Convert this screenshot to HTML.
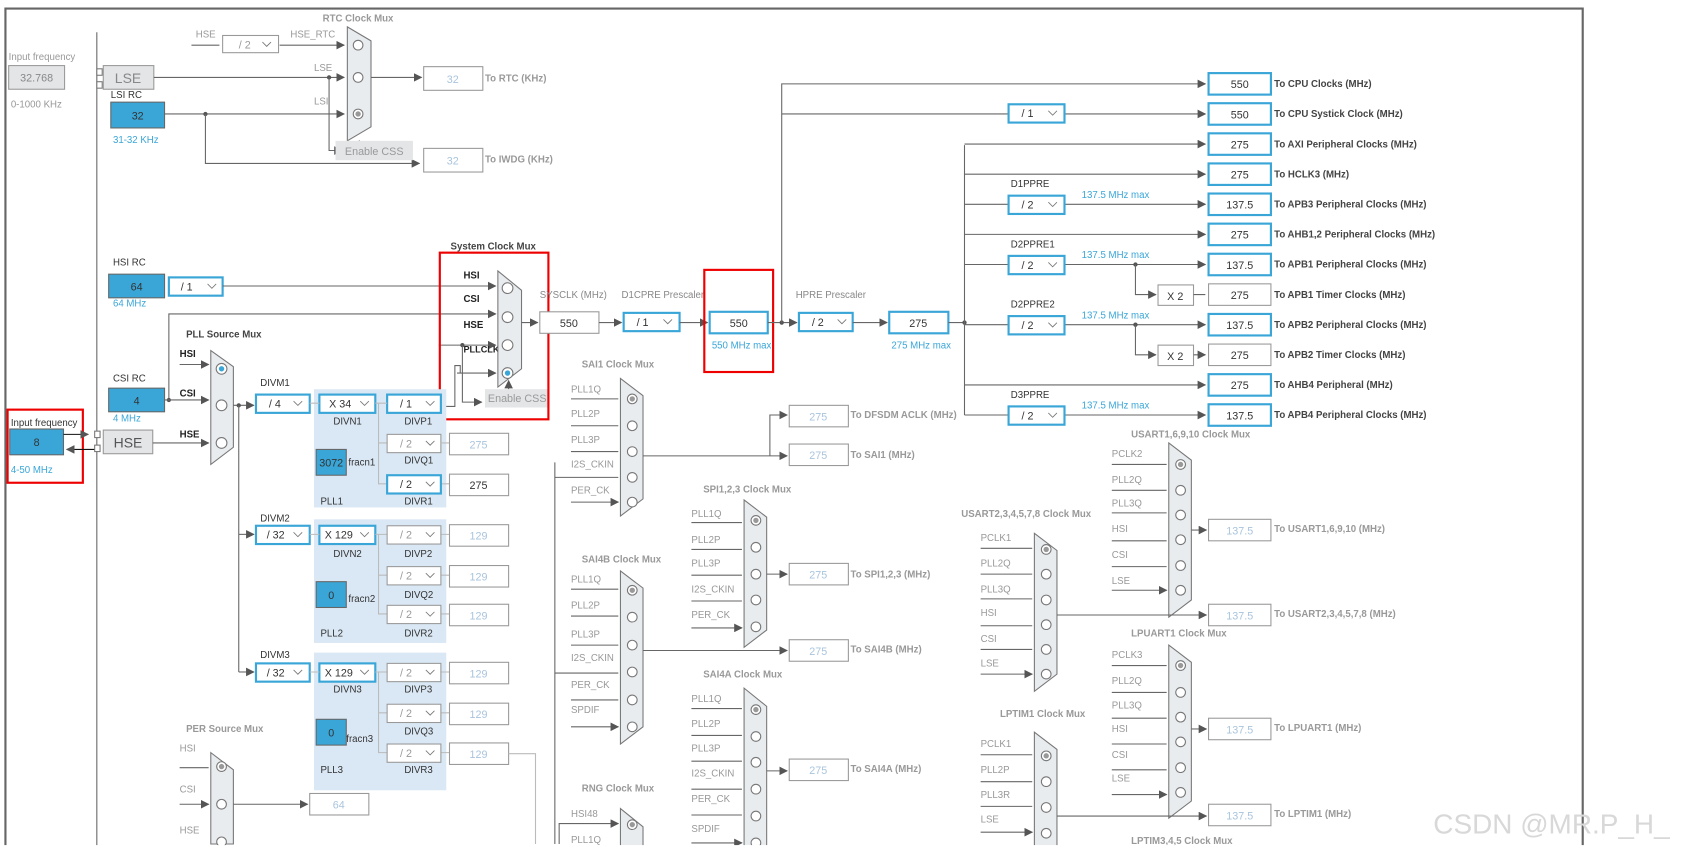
<!DOCTYPE html>
<html><head><meta charset="utf-8"><style>
html,body{margin:0;padding:0;background:#fff;}
svg{display:block;font-family:"Liberation Sans",sans-serif;}
.l{stroke:#666;stroke-width:1;fill:none}
.lb{stroke:#bbb;stroke-width:1;fill:none}
.t{font-size:9px;fill:#999}
.td{font-size:9px;fill:#333}
.tb{font-size:9px;fill:#444;font-weight:bold}
.tm{font-size:9px;fill:#999;font-weight:bold}
.tc{font-size:9px;fill:#3aa6d8}
.bx{fill:#fff;stroke:#3aa6d8;stroke-width:2}
.gx{fill:#fff;stroke:#999;stroke-width:1}
.bf{fill:#3aa6d8;stroke:#666;stroke-width:1}
.gf{fill:#e3e5e7;stroke:#999;stroke-width:1}
.mux{fill:#e9ecef;stroke:#777;stroke-width:1}
.c{fill:#fff;stroke:#777;stroke-width:1}
.v{font-size:10px;fill:#333;text-anchor:middle}
.vl{font-size:10px;fill:#a9c4dd;text-anchor:middle}
.red{fill:none;stroke:#e00;stroke-width:2}
</style></head><body>
<svg width="1686" height="851" viewBox="0 0 1568 791.5" xmlns="http://www.w3.org/2000/svg">
<defs>
<marker id="a" viewBox="0 0 10 10" refX="9" refY="5" markerWidth="8" markerHeight="8" orient="auto"><path d="M0,0L10,5L0,10z" fill="#555"/></marker>
<symbol id="ch" viewBox="0 0 10 6" overflow="visible"><path d="M0,0L5,5L10,0" fill="none" stroke="#777" stroke-width="1"/></symbol>
</defs>
<rect width="1568" height="792" fill="#fff"/>
<path d="M5,790V8H1472V790" fill="none" stroke="#666" stroke-width="2"/>
<path d="M90,30V790" class="l" stroke="#888"/>

<text x="8" y="56" class="t">Input frequency</text>
<rect x="8" y="61" width="52" height="22" class="gf"/><text x="34" y="76" class="v" style="fill:#888">32.768</text>
<text x="10" y="100" class="t">0-1000 KHz</text>
<rect x="90" y="64" width="5" height="6" fill="#fff" stroke="#777"/><rect x="90" y="76" width="5" height="6" fill="#fff" stroke="#777"/>
<rect x="96" y="61" width="47" height="22" class="gf"/><text x="119" y="77" style="font-size:13px;fill:#888" text-anchor="middle">LSE</text>
<text x="103" y="91" class="td">LSI RC</text>
<rect x="103" y="95" width="50" height="24" class="bf"/><text x="128" y="111" class="v">32</text>
<text x="105" y="133" class="tc">31-32 KHz</text>
<path d="M143,72H320" class="l" marker-end="url(#a)"/>
<path d="M153,106H320" class="l" marker-end="url(#a)"/>
<circle cx="191" cy="106" r="2" fill="#555"/><circle cx="306" cy="72" r="2" fill="#555"/>
<path d="M191,106V152H390" class="l" marker-end="url(#a)"/>
<path d="M306,72V140H318" class="l" marker-end="url(#a)"/>
<text x="182" y="35" class="t">HSE</text><path d="M178,42H204" class="l"/>
<rect x="207" y="33" width="52" height="16" class="gx"/><text x="222" y="45" class="t" style="font-size:10px">/ 2</text><use href="#ch" x="244" y="39" width="8" height="5"/>
<text x="270" y="35" class="t">HSE_RTC</text><path d="M260,42H320" class="l" marker-end="url(#a)"/>
<text x="292" y="66" class="t">LSE</text><text x="292" y="97" class="t">LSI</text>
<text x="300" y="20" class="tm">RTC Clock Mux</text>
<path d="M323,25L345,38V118L323,131Z" class="mux"/>
<circle cx="333" cy="42" r="4.5" class="c"/><circle cx="333" cy="72" r="4.5" class="c"/><circle cx="333" cy="106" r="4.5" class="c"/><circle cx="333" cy="106" r="2.5" fill="#999"/>
<path d="M334,140V131" class="l" marker-end="url(#a)"/>
<rect x="312" y="131" width="72" height="18" fill="#e3e5e7"/><text x="348" y="144" class="t" text-anchor="middle" style="font-size:10px">Enable CSS</text>
<path d="M345,72H392" class="l" marker-end="url(#a)"/>
<rect x="394" y="62" width="55" height="22" class="gx"/><text x="421" y="77" class="vl">32</text><text x="451" y="76" class="tm">To RTC (KHz)</text>
<rect x="394" y="138" width="55" height="22" class="gx"/><text x="421" y="153" class="vl">32</text><text x="451" y="151" class="tm">To IWDG (KHz)</text>

<text x="105" y="247" class="td">HSI RC</text>
<rect x="101" y="255" width="52" height="22" class="bf"/><text x="127" y="270" class="v">64</text>
<text x="105" y="285" class="tc">64 MHz</text>
<rect x="157" y="258" width="50" height="17" class="bx"/><text x="168" y="270" class="td" style="font-size:10px">/ 1</text><use href="#ch" x="193" y="264" width="8" height="5"/>
<path d="M207,266H461" class="l" marker-end="url(#a)"/>
<path d="M157,372V292H461" class="l" marker-end="url(#a)"/>
<path d="M408,321H461" class="l" marker-end="url(#a)"/><circle cx="430" cy="321" r="2" fill="#555"/>
<path d="M410,378H423V340H428V347" class="l"/><path d="M425,347H461" class="l" marker-end="url(#a)"/>
<path d="M430,321V374H448" class="l" marker-end="url(#a)"/>
<text x="419" y="232" class="tb">System Clock Mux</text>
<text x="431" y="259" class="tb" style="fill:#222">HSI</text><text x="431" y="281" class="tb" style="fill:#222">CSI</text><text x="431" y="305" class="tb" style="fill:#222">HSE</text><text x="431" y="328" class="tb" style="fill:#222;font-size:8.5px">PLLCLK</text>
<path d="M463,252L485,270V343L463,360Z" class="mux"/>
<circle cx="472" cy="268" r="5" class="c"/><circle cx="472" cy="295" r="5" class="c"/><circle cx="472" cy="321" r="5" class="c"/><circle cx="472" cy="347" r="5" class="c" stroke="#3aa6d8"/><circle cx="472" cy="347" r="2.5" fill="#3aa6d8"/>
<path d="M473,362V354" class="l" marker-end="url(#a)"/>
<rect x="451" y="362" width="60" height="17" fill="#e3e5e7"/><text x="481" y="374" class="t" text-anchor="middle" style="font-size:10px">Enable CSS</text>
<rect x="409" y="235" width="101" height="155" class="red"/>
<path d="M485,300H500" class="l" marker-end="url(#a)"/>
<text x="502" y="277" class="t" style="fill:#888">SYSCLK (MHz)</text>
<rect x="502" y="290" width="55" height="20" class="gx"/><text x="529" y="304" class="v">550</text>
<path d="M557,300H578" class="l" marker-end="url(#a)"/>
<text x="578" y="277" class="t" style="fill:#888">D1CPRE Prescaler</text>
<rect x="580" y="291" width="52" height="17" class="bx"/><text x="592" y="303" class="td" style="font-size:10px">/ 1</text><use href="#ch" x="617" y="297" width="8" height="5"/>
<path d="M632,300H658" class="l" marker-end="url(#a)"/>
<rect x="655" y="251" width="64" height="95" class="red"/>
<rect x="660" y="290" width="54" height="20" class="bx"/><text x="687" y="304" class="v">550</text>
<text x="662" y="324" class="tc">550 MHz max</text>
<path d="M714,300H741" class="l" marker-end="url(#a)"/><circle cx="727" cy="300" r="2" fill="#555"/>
<text x="740" y="277" class="t" style="fill:#888">HPRE Prescaler</text>
<rect x="743" y="291" width="50" height="17" class="bx"/><text x="755" y="303" class="td" style="font-size:10px">/ 2</text><use href="#ch" x="779" y="297" width="8" height="5"/>
<path d="M793,300H825" class="l" marker-end="url(#a)"/>
<rect x="827" y="290" width="55" height="20" class="bx"/><text x="854" y="304" class="v">275</text>
<text x="829" y="324" class="tc">275 MHz max</text>
<path d="M882,300H897" class="l"/><circle cx="897" cy="300" r="2" fill="#555"/>
<path d="M727,300V78H1121" class="l" marker-end="url(#a)"/>
<path d="M727,106H938" class="l"/><path d="M990,106H1121" class="l" marker-end="url(#a)"/>
<rect x="938" y="97" width="52" height="17" class="bx"/><text x="950" y="109" class="td" style="font-size:10px">/ 1</text><use href="#ch" x="975" y="103" width="8" height="5"/>
<path d="M897,135V386" class="l"/>
<path d="M897,134H1121" class="l" marker-end="url(#a)"/>
<path d="M897,162H1121" class="l" marker-end="url(#a)"/>
<path d="M897,218H1121" class="l" marker-end="url(#a)"/>
<path d="M897,358H1121" class="l" marker-end="url(#a)"/>
<path d="M897,190H938 M897,246H938 M897,302H938 M897,386H938" class="l"/>
<path d="M990,190H1121" class="l" marker-end="url(#a)"/>
<path d="M990,246H1121" class="l" marker-end="url(#a)"/>
<path d="M990,302H1121" class="l" marker-end="url(#a)"/>
<path d="M990,386H1121" class="l" marker-end="url(#a)"/>
<circle cx="1056" cy="246" r="2" fill="#555"/><circle cx="1056" cy="302" r="2" fill="#555"/>
<path d="M1056,246V274H1075" class="l" marker-end="url(#a)"/><path d="M1056,302V330H1075" class="l" marker-end="url(#a)"/>
<rect x="1077" y="265" width="33" height="19" class="gx"/><text x="1093" y="279" class="v">X 2</text>
<rect x="1077" y="321" width="33" height="19" class="gx"/><text x="1093" y="335" class="v">X 2</text>
<path d="M1110,274H1121 M1110,330H1121" class="l" marker-end="url(#a)"/>
<text x="940" y="174" class="td">D1PPRE</text><text x="940" y="230" class="td">D2PPRE1</text><text x="940" y="286" class="td">D2PPRE2</text><text x="940" y="370" class="td">D3PPRE</text>
<text x="1006" y="184" class="tc">137.5 MHz max</text><text x="1006" y="240" class="tc">137.5 MHz max</text><text x="1006" y="296" class="tc">137.5 MHz max</text><text x="1006" y="380" class="tc">137.5 MHz max</text>
<rect x="938" y="182" width="52" height="17" class="bx"/><text x="950" y="194" class="td" style="font-size:10px">/ 2</text><use href="#ch" x="975" y="188" width="8" height="5"/>
<rect x="938" y="238" width="52" height="17" class="bx"/><text x="950" y="250" class="td" style="font-size:10px">/ 2</text><use href="#ch" x="975" y="244" width="8" height="5"/>
<rect x="938" y="294" width="52" height="17" class="bx"/><text x="950" y="306" class="td" style="font-size:10px">/ 2</text><use href="#ch" x="975" y="300" width="8" height="5"/>
<rect x="938" y="378" width="52" height="17" class="bx"/><text x="950" y="390" class="td" style="font-size:10px">/ 2</text><use href="#ch" x="975" y="384" width="8" height="5"/>
<rect x="1124" y="68" width="58" height="20" class="bx"/><text x="1153" y="82" class="v">550</text><text x="1185" y="81" class="tb">To CPU Clocks (MHz)</text>
<rect x="1124" y="96" width="58" height="20" class="bx"/><text x="1153" y="110" class="v">550</text><text x="1185" y="109" class="tb">To CPU Systick Clock (MHz)</text>
<rect x="1124" y="124" width="58" height="20" class="bx"/><text x="1153" y="138" class="v">275</text><text x="1185" y="137" class="tb">To AXI Peripheral Clocks (MHz)</text>
<rect x="1124" y="152" width="58" height="20" class="bx"/><text x="1153" y="166" class="v">275</text><text x="1185" y="165" class="tb">To HCLK3 (MHz)</text>
<rect x="1124" y="180" width="58" height="20" class="bx"/><text x="1153" y="194" class="v">137.5</text><text x="1185" y="193" class="tb">To APB3 Peripheral Clocks (MHz)</text>
<rect x="1124" y="208" width="58" height="20" class="bx"/><text x="1153" y="222" class="v">275</text><text x="1185" y="221" class="tb">To AHB1,2 Peripheral Clocks (MHz)</text>
<rect x="1124" y="236" width="58" height="20" class="bx"/><text x="1153" y="250" class="v">137.5</text><text x="1185" y="249" class="tb">To APB1 Peripheral Clocks (MHz)</text>
<rect x="1124" y="264" width="58" height="20" class="gx"/><text x="1153" y="278" class="v">275</text><text x="1185" y="277" class="tb">To APB1 Timer Clocks (MHz)</text>
<rect x="1124" y="292" width="58" height="20" class="bx"/><text x="1153" y="306" class="v">137.5</text><text x="1185" y="305" class="tb">To APB2 Peripheral Clocks (MHz)</text>
<rect x="1124" y="320" width="58" height="20" class="gx"/><text x="1153" y="334" class="v">275</text><text x="1185" y="333" class="tb">To APB2 Timer Clocks (MHz)</text>
<rect x="1124" y="348" width="58" height="20" class="bx"/><text x="1153" y="362" class="v">275</text><text x="1185" y="361" class="tb">To AHB4 Peripheral (MHz)</text>
<rect x="1124" y="376" width="58" height="20" class="bx"/><text x="1153" y="390" class="v">137.5</text><text x="1185" y="389" class="tb">To APB4 Peripheral Clocks (MHz)</text>

<text x="105" y="355" class="td">CSI RC</text>
<rect x="101" y="361" width="52" height="22" class="bf"/><text x="127" y="376" class="v">4</text>
<text x="105" y="392" class="tc">4 MHz</text>
<circle cx="157" cy="372" r="2" fill="#555"/>
<path d="M153,372H194" class="l" marker-end="url(#a)"/>
<rect x="7" y="381" width="70" height="68" class="red"/>
<text x="10" y="396" class="td">Input frequency</text>
<rect x="9" y="399" width="50" height="24" class="bf"/><text x="34" y="415" class="v">8</text>
<text x="10" y="440" class="tc">4-50 MHz</text>
<path d="M59,404H82" stroke="#111" fill="none" marker-end="url(#a)"/><path d="M90,418H62" stroke="#111" fill="none" marker-end="url(#a)"/>
<rect x="88" y="401" width="5" height="6" fill="#fff" stroke="#777"/><rect x="88" y="414" width="5" height="6" fill="#fff" stroke="#777"/>
<rect x="96" y="400" width="46" height="22" class="gf"/><text x="119" y="416" style="font-size:13px;fill:#555" text-anchor="middle">HSE</text>
<path d="M142,412H194" class="l" marker-end="url(#a)"/>
<path d="M167,339H194" class="l" marker-end="url(#a)"/>
<text x="173" y="314" class="tb">PLL Source Mux</text>
<text x="167" y="332" class="tb" style="fill:#222">HSI</text><text x="167" y="369" class="tb" style="fill:#222">CSI</text><text x="167" y="407" class="tb" style="fill:#222">HSE</text>
<path d="M196,326L217,341V416L196,432Z" class="mux"/>
<circle cx="206" cy="343" r="5" class="c" stroke="#3aa6d8"/><circle cx="206" cy="343" r="2.5" fill="#3aa6d8"/>
<circle cx="206" cy="377" r="5" class="c"/><circle cx="206" cy="412" r="5" class="c"/>
<path d="M217,377H236" class="l" marker-end="url(#a)"/><circle cx="222" cy="377" r="2" fill="#555"/>
<path d="M222,377V625" class="l" stroke="#aaa"/>
<path d="M222,497H236" class="l" marker-end="url(#a)"/><path d="M222,625H236" class="l" marker-end="url(#a)"/>

<rect x="292" y="362" width="123" height="110" fill="#dae8f5"/>
<rect x="292" y="483" width="123" height="115" fill="#dae8f5"/>
<rect x="292" y="607" width="123" height="128" fill="#dae8f5"/>
<text x="242" y="359" class="td">DIVM1</text>
<rect x="238" y="367" width="50" height="17" class="bx"/><text x="250" y="379" class="td" style="font-size:10px">/ 4</text><use href="#ch" x="273" y="373" width="8" height="5"/>
<rect x="297" y="367" width="52" height="17" class="bx"/><text x="306" y="379" class="td" style="font-size:10px">X 34</text><use href="#ch" x="335" y="373" width="8" height="5"/>
<rect x="360" y="367" width="50" height="17" class="bx"/><text x="372" y="379" class="td" style="font-size:10px">/ 1</text><use href="#ch" x="396" y="373" width="8" height="5"/>
<text x="310" y="395" class="td">DIVN1</text><text x="376" y="395" class="td">DIVP1</text>
<path d="M288,375H297 M349,375H360 M352,375V450H360 M352,412H360" class="lb"/>
<rect x="360" y="404" width="50" height="17" class="gx"/><text x="372" y="416" class="t" style="font-size:10px">/ 2</text><use href="#ch" x="396" y="410" width="8" height="5"/>
<text x="376" y="431" class="td">DIVQ1</text>
<path d="M410,412H418 M410,450H418" class="lb"/>
<rect x="418" y="403" width="55" height="20" class="gx"/><text x="445" y="417" class="vl">275</text>
<rect x="294" y="418" width="28" height="24" class="bf"/><text x="308" y="434" class="v">3072</text><text x="324" y="433" class="td">fracn1</text>
<rect x="360" y="442" width="50" height="17" class="bx"/><text x="372" y="454" class="td" style="font-size:10px">/ 2</text><use href="#ch" x="396" y="448" width="8" height="5"/>
<rect x="418" y="441" width="55" height="20" class="gx"/><text x="445" y="455" class="v">275</text>
<text x="298" y="469" class="td">PLL1</text><text x="376" y="469" class="td">DIVR1</text>

<text x="242" y="485" class="td">DIVM2</text>
<rect x="238" y="489" width="50" height="17" class="bx"/><text x="248" y="501" class="td" style="font-size:10px">/ 32</text><use href="#ch" x="273" y="495" width="8" height="5"/>
<rect x="297" y="489" width="52" height="17" class="bx"/><text x="302" y="501" class="td" style="font-size:10px">X 129</text><use href="#ch" x="335" y="495" width="8" height="5"/>
<text x="310" y="518" class="td">DIVN2</text>
<path d="M288,497H297 M349,497H360 M352,497V571H360 M352,535H360 M410,497H418 M410,535H418 M410,571H418" class="lb"/>
<rect x="360" y="489" width="50" height="17" class="gx"/><text x="372" y="501" class="t" style="font-size:10px">/ 2</text><use href="#ch" x="396" y="495" width="8" height="5"/>
<text x="376" y="518" class="td">DIVP2</text>
<rect x="418" y="488" width="55" height="20" class="gx"/><text x="445" y="502" class="vl">129</text>
<rect x="360" y="527" width="50" height="17" class="gx"/><text x="372" y="539" class="t" style="font-size:10px">/ 2</text><use href="#ch" x="396" y="533" width="8" height="5"/>
<text x="376" y="556" class="td">DIVQ2</text>
<rect x="418" y="526" width="55" height="20" class="gx"/><text x="445" y="540" class="vl">129</text>
<rect x="294" y="541" width="28" height="24" class="bf"/><text x="308" y="557" class="v">0</text><text x="324" y="560" class="td">fracn2</text>
<rect x="360" y="563" width="50" height="17" class="gx"/><text x="372" y="575" class="t" style="font-size:10px">/ 2</text><use href="#ch" x="396" y="569" width="8" height="5"/>
<rect x="418" y="562" width="55" height="20" class="gx"/><text x="445" y="576" class="vl">129</text>
<text x="298" y="592" class="td">PLL2</text><text x="376" y="592" class="td">DIVR2</text>

<text x="242" y="612" class="td">DIVM3</text>
<rect x="238" y="617" width="50" height="17" class="bx"/><text x="248" y="629" class="td" style="font-size:10px">/ 32</text><use href="#ch" x="273" y="623" width="8" height="5"/>
<rect x="297" y="617" width="52" height="17" class="bx"/><text x="302" y="629" class="td" style="font-size:10px">X 129</text><use href="#ch" x="335" y="623" width="8" height="5"/>
<text x="310" y="644" class="td">DIVN3</text>
<path d="M288,625H297 M349,625H360 M352,625V700H360 M352,663H360 M410,625H418 M410,663H418 M410,700H418" class="lb"/>
<rect x="360" y="617" width="50" height="17" class="gx"/><text x="372" y="629" class="t" style="font-size:10px">/ 2</text><use href="#ch" x="396" y="623" width="8" height="5"/>
<text x="376" y="644" class="td">DIVP3</text>
<rect x="418" y="616" width="55" height="20" class="gx"/><text x="445" y="630" class="vl">129</text>
<rect x="360" y="655" width="50" height="17" class="gx"/><text x="372" y="667" class="t" style="font-size:10px">/ 2</text><use href="#ch" x="396" y="661" width="8" height="5"/>
<text x="376" y="683" class="td">DIVQ3</text>
<rect x="418" y="654" width="55" height="20" class="gx"/><text x="445" y="668" class="vl">129</text>
<rect x="294" y="669" width="28" height="24" class="bf"/><text x="308" y="685" class="v">0</text><text x="322" y="690" class="td">fracn3</text>
<rect x="360" y="692" width="50" height="17" class="gx"/><text x="372" y="704" class="t" style="font-size:10px">/ 2</text><use href="#ch" x="396" y="698" width="8" height="5"/>
<rect x="418" y="691" width="55" height="20" class="gx"/><text x="445" y="705" class="vl">129</text>
<text x="298" y="719" class="td">PLL3</text><text x="376" y="719" class="td">DIVR3</text>
<path d="M473,701H498V785" class="lb"/>

<text x="173" y="681" class="tm">PER Source Mux</text>
<text x="167" y="699" class="t">HSI</text><text x="167" y="737" class="t">CSI</text><text x="167" y="775" class="t">HSE</text>
<path d="M167,714H194 M167,748H194" class="l" marker-end="url(#a)"/>
<path d="M196,700L217,716V785H196Z" class="mux"/>
<circle cx="206" cy="713" r="4.5" class="c"/><circle cx="206" cy="713" r="2.5" fill="#999"/>
<circle cx="206" cy="748" r="4.5" class="c"/><circle cx="206" cy="783" r="4.5" class="c"/>
<path d="M217,748H286" class="l" marker-end="url(#a)"/>
<rect x="288" y="738" width="55" height="20" class="gx"/><text x="315" y="752" class="vl">64</text>
<path d="M516,430V785" class="l"/>

<text x="541" y="342" class="tm">SAI1 Clock Mux</text>
<path d="M577,352L598,368V464L577,480Z" class="mux"/>
<text x="531" y="365" class="t">PLL1Q</text><text x="531" y="388" class="t">PLL2P</text><text x="531" y="412" class="t">PLL3P</text><text x="531" y="435" class="t">I2S_CKIN</text><text x="531" y="459" class="t">PER_CK</text>
<path d="M531,371H575 M531,396H575 M531,420H575 M516,444H575 M531,467H575" class="l" marker-end="url(#a)"/>
<circle cx="588" cy="371" r="4.5" class="c"/><circle cx="588" cy="371" r="2.5" fill="#999"/>
<circle cx="588" cy="396" r="4.5" class="c"/><circle cx="588" cy="420" r="4.5" class="c"/><circle cx="588" cy="444" r="4.5" class="c"/><circle cx="588" cy="467" r="4.5" class="c"/>
<path d="M598,424H732" class="l" marker-end="url(#a)"/><path d="M716,424V386H732" class="l" marker-end="url(#a)"/>
<rect x="734" y="377" width="55" height="20" class="gx"/><text x="761" y="391" class="vl">275</text><text x="791" y="389" class="tm">To DFSDM ACLK (MHz)</text>
<rect x="734" y="413" width="55" height="20" class="gx"/><text x="761" y="427" class="vl">275</text><text x="791" y="426" class="tm">To SAI1 (MHz)</text>

<text x="541" y="523" class="tm">SAI4B Clock Mux</text>
<path d="M577,531L598,547V676L577,692Z" class="mux"/>
<text x="531" y="542" class="t">PLL1Q</text><text x="531" y="566" class="t">PLL2P</text><text x="531" y="593" class="t">PLL3P</text><text x="531" y="615" class="t">I2S_CKIN</text><text x="531" y="640" class="t">PER_CK</text><text x="531" y="663" class="t">SPDIF</text>
<path d="M531,548H575 M531,573H575 M531,600H575 M516,626H575 M531,651H575 M531,676H575" class="l" marker-end="url(#a)"/>
<circle cx="588" cy="549" r="4.5" class="c"/><circle cx="588" cy="549" r="2.5" fill="#999"/>
<circle cx="588" cy="574" r="4.5" class="c"/><circle cx="588" cy="600" r="4.5" class="c"/><circle cx="588" cy="625" r="4.5" class="c"/><circle cx="588" cy="651" r="4.5" class="c"/><circle cx="588" cy="676" r="4.5" class="c"/>
<path d="M598,605H732" class="l" marker-end="url(#a)"/>
<rect x="734" y="595" width="55" height="20" class="gx"/><text x="761" y="609" class="vl">275</text><text x="791" y="607" class="tm">To SAI4B (MHz)</text>

<text x="654" y="458" class="tm">SPI1,2,3 Clock Mux</text>
<path d="M692,465L713,481V586L692,602Z" class="mux"/>
<text x="643" y="481" class="t">PLL1Q</text><text x="643" y="505" class="t">PLL2P</text><text x="643" y="527" class="t">PLL3P</text><text x="643" y="551" class="t">I2S_CKIN</text><text x="643" y="575" class="t">PER_CK</text>
<path d="M643,486H690 M643,511H690 M643,535H690 M643,559H690 M643,584H690" class="l" marker-end="url(#a)"/>
<circle cx="703" cy="484" r="4.5" class="c"/><circle cx="703" cy="484" r="2.5" fill="#999"/>
<circle cx="703" cy="509" r="4.5" class="c"/><circle cx="703" cy="534" r="4.5" class="c"/><circle cx="703" cy="558" r="4.5" class="c"/><circle cx="703" cy="583" r="4.5" class="c"/>
<path d="M713,534H732" class="l" marker-end="url(#a)"/>
<rect x="734" y="524" width="55" height="20" class="gx"/><text x="761" y="538" class="vl">275</text><text x="791" y="537" class="tm">To SPI1,2,3 (MHz)</text>

<text x="654" y="630" class="tm">SAI4A Clock Mux</text>
<path d="M692,640L713,657V790H692Z" class="mux"/>
<text x="643" y="653" class="t">PLL1Q</text><text x="643" y="676" class="t">PLL2P</text><text x="643" y="699" class="t">PLL3P</text><text x="643" y="722" class="t">I2S_CKIN</text><text x="643" y="746" class="t">PER_CK</text><text x="643" y="774" class="t">SPDIF</text>
<path d="M643,659H690 M643,684H690 M643,708H690 M643,734H690 M643,758H690 M643,784H690" class="l" marker-end="url(#a)"/>
<circle cx="703" cy="660" r="4.5" class="c"/><circle cx="703" cy="660" r="2.5" fill="#999"/>
<circle cx="703" cy="685" r="4.5" class="c"/><circle cx="703" cy="709" r="4.5" class="c"/><circle cx="703" cy="734" r="4.5" class="c"/><circle cx="703" cy="759" r="4.5" class="c"/><circle cx="703" cy="784" r="4.5" class="c"/>
<path d="M713,717H732" class="l" marker-end="url(#a)"/>
<rect x="734" y="706" width="55" height="20" class="gx"/><text x="761" y="720" class="vl">275</text><text x="791" y="718" class="tm">To SAI4A (MHz)</text>

<text x="541" y="736" class="tm">RNG Clock Mux</text>
<text x="531" y="760" class="t">HSI48</text><text x="531" y="784" class="t">PLL1Q</text>
<path d="M577,752L598,769V790H577Z" class="mux"/>
<path d="M520,785V766H575" class="l" marker-end="url(#a)"/>
<circle cx="588" cy="767" r="4.5" class="c"/><circle cx="588" cy="767" r="2.5" fill="#999"/>

<text x="1052" y="407" class="tm">USART1,6,9,10 Clock Mux</text>
<path d="M1087,412L1108,428V558L1087,574Z" class="mux"/>
<text x="1034" y="425" class="t">PCLK2</text><text x="1034" y="449" class="t">PLL2Q</text><text x="1034" y="471" class="t">PLL3Q</text><text x="1034" y="495" class="t">HSI</text><text x="1034" y="519" class="t">CSI</text><text x="1034" y="543" class="t">LSE</text>
<path d="M1034,432H1085 M1034,456H1085 M1034,477H1085 M1034,503H1085 M1034,527H1085 M1034,549H1085" class="l" marker-end="url(#a)"/>
<circle cx="1098" cy="432" r="4.5" class="c"/><circle cx="1098" cy="432" r="2.5" fill="#999"/>
<circle cx="1098" cy="456" r="4.5" class="c"/><circle cx="1098" cy="479" r="4.5" class="c"/><circle cx="1098" cy="502" r="4.5" class="c"/><circle cx="1098" cy="526" r="4.5" class="c"/><circle cx="1098" cy="549" r="4.5" class="c"/>
<path d="M1108,493H1122" class="l" marker-end="url(#a)"/>
<rect x="1124" y="483" width="58" height="20" class="gx"/><text x="1153" y="497" class="vl">137.5</text><text x="1185" y="495" class="tm">To USART1,6,9,10 (MHz)</text>

<text x="894" y="481" class="tm">USART2,3,4,5,7,8 Clock Mux</text>
<path d="M962,496L983,512V627L962,643Z" class="mux"/>
<text x="912" y="503" class="t">PCLK1</text><text x="912" y="527" class="t">PLL2Q</text><text x="912" y="551" class="t">PLL3Q</text><text x="912" y="573" class="t">HSI</text><text x="912" y="597" class="t">CSI</text><text x="912" y="620" class="t">LSE</text>
<path d="M912,510H960 M912,534H960 M912,557H960 M912,582H960 M912,604H960 M912,627H960" class="l" marker-end="url(#a)"/>
<circle cx="973" cy="511" r="4.5" class="c"/><circle cx="973" cy="511" r="2.5" fill="#999"/>
<circle cx="973" cy="534" r="4.5" class="c"/><circle cx="973" cy="558" r="4.5" class="c"/><circle cx="973" cy="581" r="4.5" class="c"/><circle cx="973" cy="604" r="4.5" class="c"/><circle cx="973" cy="627" r="4.5" class="c"/>
<path d="M983,572H1122" class="l" marker-end="url(#a)"/>
<rect x="1124" y="562" width="58" height="20" class="gx"/><text x="1153" y="576" class="vl">137.5</text><text x="1185" y="574" class="tm">To USART2,3,4,5,7,8 (MHz)</text>

<text x="1052" y="592" class="tm">LPUART1 Clock Mux</text>
<path d="M1087,600L1108,616V745L1087,761Z" class="mux"/>
<text x="1034" y="612" class="t">PCLK3</text><text x="1034" y="636" class="t">PLL2Q</text><text x="1034" y="659" class="t">PLL3Q</text><text x="1034" y="681" class="t">HSI</text><text x="1034" y="705" class="t">CSI</text><text x="1034" y="727" class="t">LSE</text>
<path d="M1034,619H1085 M1034,644H1085 M1034,668H1085 M1034,692H1085 M1034,716H1085 M1034,739H1085" class="l" marker-end="url(#a)"/>
<circle cx="1098" cy="619" r="4.5" class="c"/><circle cx="1098" cy="619" r="2.5" fill="#999"/>
<circle cx="1098" cy="644" r="4.5" class="c"/><circle cx="1098" cy="667" r="4.5" class="c"/><circle cx="1098" cy="690" r="4.5" class="c"/><circle cx="1098" cy="714" r="4.5" class="c"/><circle cx="1098" cy="737" r="4.5" class="c"/>
<path d="M1108,678H1122" class="l" marker-end="url(#a)"/>
<rect x="1124" y="668" width="58" height="20" class="gx"/><text x="1153" y="682" class="vl">137.5</text><text x="1185" y="680" class="tm">To LPUART1 (MHz)</text>

<text x="930" y="667" class="tm">LPTIM1 Clock Mux</text>
<path d="M962,681L983,697V790H962Z" class="mux"/>
<text x="912" y="695" class="t">PCLK1</text><text x="912" y="719" class="t">PLL2P</text><text x="912" y="742" class="t">PLL3R</text><text x="912" y="765" class="t">LSE</text>
<path d="M912,702H960 M912,727H960 M912,750H960 M912,774H960" class="l" marker-end="url(#a)"/>
<circle cx="973" cy="703" r="4.5" class="c"/><circle cx="973" cy="703" r="2.5" fill="#999"/>
<circle cx="973" cy="727" r="4.5" class="c"/><circle cx="973" cy="751" r="4.5" class="c"/><circle cx="973" cy="775" r="4.5" class="c"/>
<path d="M983,759H1122" class="l" marker-end="url(#a)"/>
<rect x="1124" y="748" width="58" height="20" class="gx"/><text x="1153" y="762" class="vl">137.5</text><text x="1185" y="760" class="tm">To LPTIM1 (MHz)</text>
<text x="1052" y="785" class="tm">LPTIM3,4,5 Clock Mux</text>

<rect x="0" y="786" width="1568" height="6" fill="#fff"/>
<text x="1333" y="775" style="font-size:26px;fill:#d8d8d8">CSDN @MR.P_H_</text>
</svg>
</body></html>
